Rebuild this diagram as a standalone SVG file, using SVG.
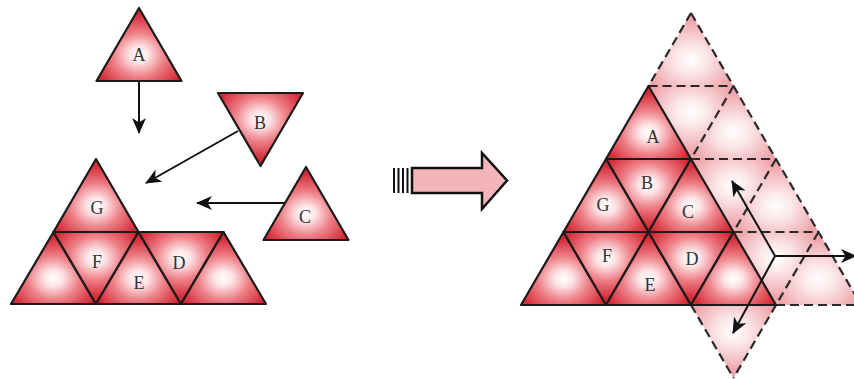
<svg xmlns="http://www.w3.org/2000/svg" width="854" height="379" viewBox="0 0 854 379">
<defs>
  <radialGradient id="gUp" cx="0.5" cy="0.64" r="0.55">
    <stop offset="0" stop-color="#ffffff"/>
    <stop offset="0.2" stop-color="#fde4e6"/>
    <stop offset="0.55" stop-color="#ee8088"/>
    <stop offset="1" stop-color="#d42a36"/>
  </radialGradient>
  <radialGradient id="gDown" cx="0.5" cy="0.36" r="0.55">
    <stop offset="0" stop-color="#ffffff"/>
    <stop offset="0.2" stop-color="#fde4e6"/>
    <stop offset="0.55" stop-color="#ee8088"/>
    <stop offset="1" stop-color="#d42a36"/>
  </radialGradient>
  <radialGradient id="fUp" cx="0.5" cy="0.64" r="0.55">
    <stop offset="0" stop-color="#ffffff"/>
    <stop offset="0.35" stop-color="#fbe6e8"/>
    <stop offset="1" stop-color="#eea3a9"/>
  </radialGradient>
  <radialGradient id="fDown" cx="0.5" cy="0.36" r="0.55">
    <stop offset="0" stop-color="#ffffff"/>
    <stop offset="0.35" stop-color="#fbe6e8"/>
    <stop offset="1" stop-color="#eea3a9"/>
  </radialGradient>
  <marker id="ah" viewBox="0 0 16 14" refX="15" refY="7" markerWidth="16" markerHeight="14" markerUnits="userSpaceOnUse" orient="auto">
    <path d="M0,0 L16,7 L0,14 L4.5,7 Z" fill="#111"/>
  </marker>
  <style>
    .up{fill:url(#gUp);stroke:#1a1a1a;stroke-width:2.2;stroke-linejoin:round}
    .dn{fill:url(#gDown);stroke:#1a1a1a;stroke-width:2.2;stroke-linejoin:round}
    .fu{fill:url(#fUp);stroke:none}
    .fd{fill:url(#fDown);stroke:none}
    .dash{stroke:#2a2a2a;stroke-width:2.2;stroke-dasharray:9 5;fill:none}
    .lbl{font-family:"Liberation Serif","DejaVu Serif",serif;font-size:18px;fill:#333;text-anchor:middle}
    .con{stroke:#111;stroke-width:2;fill:none;marker-end:url(#ah)}
  </style>
</defs>
<rect width="854" height="379" fill="#ffffff"/>

<!-- Left: loose tiles -->
<g id="tileA">
  <polygon class="up" points="139,8 96.5,81 181.5,81"/>
  <text class="lbl" x="139" y="61">A</text>
</g>
<g id="tileB">
  <polygon class="dn" points="218,93 303,93 260.5,166"/>
  <text class="lbl" x="260" y="129">B</text>
</g>
<g id="tileC">
  <polygon class="up" points="306,167 263.5,240 348.5,240"/>
  <text class="lbl" x="305" y="223">C</text>
</g>

<!-- Left: assembled base -->
<g id="baseLeft">
  <g id="tileG"><polygon class="up" points="96,159 53.5,232 138.5,232"/><text class="lbl" x="97" y="214">G</text></g>
  <g id="tileL1"><polygon class="up" points="53.5,232 11,304 96,304"/></g>
  <g id="tileF"><polygon class="dn" points="53.5,232 138.5,232 96,304"/><text class="lbl" x="97" y="268">F</text></g>
  <g id="tileE"><polygon class="up" points="138.5,232 96,304 181,304"/><text class="lbl" x="139" y="289">E</text></g>
  <g id="tileD"><polygon class="dn" points="138.5,232 223.5,232 181,304"/><text class="lbl" x="179" y="269">D</text></g>
  <g id="tileL2"><polygon class="up" points="223.5,232 181,304 266,304"/></g>
</g>

<!-- Middle transition arrow -->
<g id="bigArrow">
  <line x1="394" y1="168" x2="394" y2="193" stroke="#111" stroke-width="2"/>
  <line x1="398.5" y1="168" x2="398.5" y2="193" stroke="#111" stroke-width="2"/>
  <line x1="403" y1="168" x2="403" y2="193" stroke="#111" stroke-width="2"/>
  <line x1="407.5" y1="168" x2="407.5" y2="193" stroke="#111" stroke-width="2"/>
  <polygon points="412,168 482,168 482,153 507,180.5 482,209 482,193 412,193" fill="#f4b5ba" stroke="#111" stroke-width="2.5" stroke-linejoin="miter"/>
</g>

<!-- Right: faded (dashed) tiles -->
<g id="fadedTiles">
  <polygon class="fu" points="691,13 648.5,86 733.5,86"/>
  <polygon class="fd" points="648.5,86 733.5,86 691,159"/>
  <polygon class="fu" points="733.5,86 691,159 776,159"/>
  <polygon class="fd" points="691,159 776,159 733.5,232"/>
  <polygon class="fu" points="776,159 733.5,232 818.5,232"/>
  <polygon class="fd" points="733.5,232 818.5,232 776,305"/>
  <polygon class="fu" points="818.5,232 776,305 861,305"/>
  <polygon class="fd" points="691,305 776,305 733.5,378"/>
  <line class="dash" x1="691" y1="13" x2="861" y2="305"/>
  <line class="dash" x1="691" y1="13" x2="648.5" y2="86"/>
  <line class="dash" x1="648.5" y1="86" x2="733.5" y2="86"/>
  <line class="dash" x1="691" y1="159" x2="776" y2="159"/>
  <line class="dash" x1="733.5" y1="232" x2="818.5" y2="232"/>
  <line class="dash" x1="776" y1="305" x2="861" y2="305"/>
  <line class="dash" x1="733.5" y1="86" x2="691" y2="159"/>
  <line class="dash" x1="776" y1="159" x2="733.5" y2="232"/>
  <line class="dash" x1="818.5" y1="232" x2="733.5" y2="378"/>
  <line class="dash" x1="691" y1="305" x2="733.5" y2="378"/>
</g>

<!-- Right: assembled tiles -->
<g id="assembled">
  <g id="rA"><polygon class="up" points="648.5,86 606,159 691,159"/><text class="lbl" x="653" y="143">A</text></g>
  <g id="rB"><polygon class="dn" points="606,159 691,159 648.5,232"/><text class="lbl" x="647" y="189">B</text></g>
  <g id="rG"><polygon class="up" points="606,159 563.5,232 648.5,232"/><text class="lbl" x="603" y="211">G</text></g>
  <g id="rC"><polygon class="up" points="691,159 648.5,232 733.5,232"/><text class="lbl" x="688" y="218">C</text></g>
  <g id="rL1"><polygon class="up" points="563.5,232 521,305 606,305"/></g>
  <g id="rF"><polygon class="dn" points="563.5,232 648.5,232 606,305"/><text class="lbl" x="607" y="262">F</text></g>
  <g id="rE"><polygon class="up" points="648.5,232 606,305 691,305"/><text class="lbl" x="650" y="291">E</text></g>
  <g id="rD"><polygon class="dn" points="648.5,232 733.5,232 691,305"/><text class="lbl" x="692" y="265">D</text></g>
  <g id="rL2"><polygon class="up" points="733.5,232 691,305 776,305"/></g>
</g>

<!-- Connectors -->
<g id="connectors">
  <line class="con" x1="139" y1="82" x2="139" y2="133"/>
  <line class="con" x1="238" y1="131" x2="146" y2="183"/>
  <line class="con" x1="285" y1="203" x2="197" y2="203"/>
  <line class="con" x1="775" y1="256" x2="732" y2="181"/>
  <line class="con" x1="775" y1="256" x2="733" y2="333"/>
  <line class="con" x1="775" y1="256" x2="856" y2="256"/>
</g>
</svg>
